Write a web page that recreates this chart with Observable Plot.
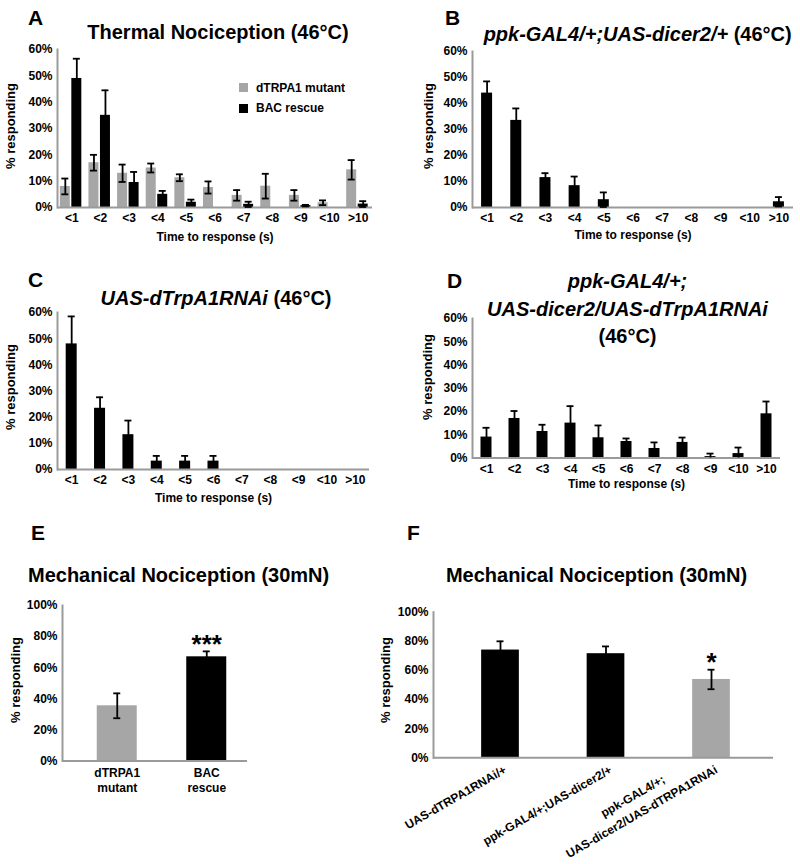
<!DOCTYPE html>
<html><head><meta charset="utf-8">
<script src="https://cdn.jsdelivr.net/npm/d3@7"></script>
<script src="https://cdn.jsdelivr.net/npm/@observablehq/plot@0.6"></script>
<style>
body{margin:0;background:#fff;}
#fig{position:relative;width:800px;height:864px;overflow:hidden;font-family:"Liberation Sans",Arial,Helvetica,sans-serif;font-weight:bold;color:#000;background:#fff;}
.t{position:absolute;line-height:1;white-space:nowrap;}
.sq{position:absolute;}
#fig svg{position:absolute;}
</style></head><body><div id="fig"></div>
<script>
// ---------------- DATA ----------------
const categories = ["<1","<2","<3","<4","<5","<6","<7","<8","<9","<10",">10"];
const seriesA = ["dTRPA1 mutant", "BAC rescue"];
const mutantA    = [8, 17, 13, 15, 11.3, 7.6, 4.6, 8.1, 4.6, 1.8, 14.3];
const mutantAErr = [3, 3, 3.3, 1.7, 1.3, 2.3, 2, 4.7, 2, 0.9, 3.7];
const rescueA    = [49, 35, 9.5, 5, 2, 0, 1.2, 0, 0.7, 0, 1.3];
const rescueAErr = [7.5, 9.5, 4, 1.3, 1, 0, 1, 0, 0.3, 0, 1.1];
const controlB    = [44, 33.5, 11.5, 8.4, 3, 0, 0, 0, 0, 0, 2.2];
const controlBErr = [4.5, 4.6, 1.7, 3.5, 2.8, 0, 0, 0, 0, 0, 1.8];
const rnaiC    = [48, 23.4, 13.3, 3.2, 3.2, 3.2, 0, 0, 0, 0, 0];
const rnaiCErr = [10.5, 4.2, 5.4, 2, 2, 2, 0, 0, 0, 0, 0];
const knockdownD    = [9, 17, 11.4, 15, 8.7, 7.1, 4.1, 6.7, 0.6, 1.9, 19];
const knockdownDErr = [4, 3.2, 2.9, 7.3, 5.3, 1.3, 2.6, 2.1, 1.3, 2.6, 5.3];
const thermalTicks = [0, 10, 20, 30, 40, 50, 60];
const mechTicks = [0, 20, 40, 60, 80, 100];
const groupsE = ["dTRPA1\nmutant", "BAC\nrescue"];
const valuesE = [35.5, 67];
const errE = [8, 3.5];
const signifE = ["", "***"];
const groupsF = ["UAS-dTRPA1RNAi/+", "ppk-GAL4/+;UAS-dicer2/+", "ppk-GAL4/+;\nUAS-dicer2/UAS-dTRPA1RNAi"];
const valuesF = [74, 71.5, 53.8];
const errF = [6, 5, 6.7];
const signifF = ["", "", "*"];

// ---------------- STYLE ----------------
const FONT = '"Liberation Sans", Arial, Helvetica, sans-serif';
const GRAY = "#a6a6a6", BLACK = "#000000", AXIS = "#9a9a9a";
const CAP = 7, EW = 1.8;
const fig = document.getElementById("fig");

function rowsOf(domain, values, errs, sig) {
  return domain.map((k, i) => ({k, v: values[i], e: errs[i], s: sig ? sig[i] : ""}));
}
function barMark(rows, fill, offset, w, step) {
  return Plot.barY(rows, {x: "k", y: "v", fill, insetLeft: step / 2 + offset - w / 2, insetRight: step / 2 - offset - w / 2});
}
function errMarks(rows, offset, step) {
  const r = rows.filter(d => d.v > 0 && d.e > 0);
  const cl = step / 2 + offset - CAP / 2, cr = step / 2 - offset - CAP / 2;
  return [
    Plot.ruleX(r, {x: "k", y1: d => Math.max(0, d.v - d.e), y2: d => d.v + d.e, dx: offset, stroke: BLACK, strokeWidth: EW}),
    Plot.tickY(r, {x: "k", y: d => d.v + d.e, insetLeft: cl, insetRight: cr, stroke: BLACK, strokeWidth: EW}),
    Plot.tickY(r.filter(d => d.v - d.e > 0), {x: "k", y: d => d.v - d.e, insetLeft: cl, insetRight: cr, stroke: BLACK, strokeWidth: EW})
  ];
}

function addText(html, x, baseline, size, align) {
  const d = document.createElement("div");
  d.className = "t";
  d.innerHTML = html;
  d.style.fontSize = size + "px";
  d.style.top = (baseline - 0.8465 * size) + "px";
  d.style.left = x + "px";
  if (align === "center") d.style.transform = "translateX(-50%)";
  fig.appendChild(d);
}
// vertical axis title, centred on (cx, cy), reading bottom to top
function addVLabel(text, cx, cy, size) {
  const d = document.createElement("div");
  d.className = "t";
  d.textContent = text;
  d.style.fontSize = size + "px";
  d.style.left = cx + "px";
  d.style.top = cy + "px";
  d.style.transform = "translate(-50%,-50%) rotate(-90deg)";
  fig.appendChild(d);
}

function panel(cfg) {
  const n = cfg.domain.length;
  const step = (cfg.range[1] - cfg.range[0]) / n;
  const marks = [];
  for (const s of cfg.series) marks.push(barMark(s.rows, s.fill, s.offset, s.width, step));
  marks.push(Plot.ruleY([0], {stroke: AXIS, strokeWidth: 2}));
  marks.push(Plot.frame({anchor: "left", stroke: AXIS, strokeWidth: 2}));
  for (const s of cfg.series) marks.push(...errMarks(s.rows, s.offset, step));
  if (cfg.stars) {
    marks.push(Plot.text(cfg.stars.filter(d => d.s), {x: "k", y: d => d.v + d.e, text: "s", fontSize: 26, lineAnchor: "middle", dy: -7}));
  }
  marks.push(Plot.axisY({ticks: cfg.yTicks, tickFormat: d => d + "%", tickSize: 0, tickPadding: 5, label: null}));
  marks.push(Plot.axisX({tickSize: 0, tickPadding: cfg.tickPadding, label: null, lineHeight: cfg.lineHeight || 1, tickRotate: cfg.tickRotate || 0, dx: cfg.tickDx || 0}));
  if (cfg.xLabel) marks.push(Plot.text([cfg.xLabel], {text: d => d, frameAnchor: "bottom", lineAnchor: "top", dy: cfg.xLabelDy}));
  const svg = Plot.plot({
    width: cfg.width, height: cfg.height,
    marginTop: cfg.mt, marginRight: cfg.mr, marginBottom: cfg.mb, marginLeft: cfg.ml,
    style: {fontFamily: FONT, fontSize: "12px", fontWeight: "bold", color: "#000", background: "none", overflow: "visible"},
    x: {type: "band", domain: cfg.domain, range: cfg.range, padding: 0, round: false},
    y: {domain: cfg.yDomain},
    marks
  });
  svg.style.left = cfg.left + "px";
  svg.style.top = cfg.top + "px";
  fig.appendChild(svg);
  return svg;
}

// ---------------- PANEL A ----------------
panel({
  left: 0, top: 40, width: 382, height: 207, mt: 9, mr: 10, mb: 40, ml: 57,
  domain: categories, range: [57, 372], yDomain: [0, 60], yTicks: thermalTicks,
  series: [
    {rows: rowsOf(categories, mutantA, mutantAErr), fill: GRAY, offset: -6.5, width: 10},
    {rows: rowsOf(categories, rescueA, rescueAErr), fill: BLACK, offset: 5, width: 10}
  ],
  tickPadding: 6, xLabel: "Time to response (s)", xLabelDy: 24.5
});
addVLabel("% responding", 9.8, 126, 13);
[GRAY, BLACK].forEach((c, i) => {
  const sq = document.createElement("div");
  sq.className = "sq";
  Object.assign(sq.style, {left: "239px", top: (83 + i * 20.5) + "px", width: "9px", height: "9px", background: c});
  fig.appendChild(sq);
  addText(seriesA[i], 256, 92 + i * 20.5, 12);
});

// ---------------- PANEL B ----------------
panel({
  left: 410, top: 40, width: 388, height: 207, mt: 11, mr: 5, mb: 40, ml: 62,
  domain: categories, range: [62, 383], yDomain: [0, 60], yTicks: thermalTicks,
  series: [{rows: rowsOf(categories, controlB, controlBErr), fill: BLACK, offset: 0, width: 11}],
  tickPadding: 6, xLabel: "Time to response (s)", xLabelDy: 23
});
addVLabel("% responding", 428, 126, 13);

// ---------------- PANEL C ----------------
panel({
  left: 0, top: 300, width: 379, height: 209, mt: 12, mr: 10, mb: 40, ml: 57,
  domain: categories, range: [57, 369], yDomain: [0, 60], yTicks: thermalTicks,
  series: [{rows: rowsOf(categories, rnaiC, rnaiCErr), fill: BLACK, offset: 0, width: 11}],
  tickPadding: 5.5, xLabel: "Time to response (s)", xLabelDy: 24
});
addVLabel("% responding", 9.8, 386.7, 13);

// ---------------- PANEL D ----------------
panel({
  left: 410, top: 300, width: 380, height: 193, mt: 18, mr: 10, mb: 35.5, ml: 62,
  domain: categories, range: [62, 370], yDomain: [0, 60], yTicks: thermalTicks,
  series: [{rows: rowsOf(categories, knockdownD, knockdownDErr), fill: BLACK, offset: 0, width: 11}],
  tickPadding: 6, xLabel: "Time to response (s)", xLabelDy: 21
});
addVLabel("% responding", 426.5, 376.7, 13);

// ---------------- PANEL E ----------------
const rowsE = rowsOf(groupsE, valuesE, errE, signifE);
panel({
  left: 0, top: 590, width: 260, height: 210.5, mt: 15, mr: 13, mb: 40, ml: 62,
  domain: groupsE, range: [72, 251], yDomain: [0, 100], yTicks: mechTicks,
  series: [
    {rows: rowsE.filter((d, i) => i === 0), fill: GRAY, offset: 0, width: 40},
    {rows: rowsE.filter((d, i) => i === 1), fill: BLACK, offset: 0, width: 40}
  ],
  stars: rowsE, tickPadding: 5, lineHeight: 1.25
});
addVLabel("% responding", 14.8, 680, 13);

// ---------------- PANEL F ----------------
const rowsF = rowsOf(groupsF, valuesF, errF, signifF);
const svgF = panel({
  left: 375, top: 590, width: 418, height: 274, mt: 21.7, mr: 20, mb: 106.7, ml: 58,
  domain: groupsF, range: [72.25, 388.75], yDomain: [0, 100], yTicks: mechTicks,
  series: [
    {rows: rowsF.filter((d, i) => i < 2), fill: BLACK, offset: 0, width: 37.7},
    {rows: rowsF.filter((d, i) => i === 2), fill: GRAY, offset: 0, width: 37.7}
  ],
  stars: rowsF, tickPadding: 11, tickDx: 5, tickRotate: -30
});
addVLabel("% responding", 384.8, 680, 13);
// rotated labels: end of the longest (last) line at the tick, extra lines centred above it
const LH = 1.5;
svgF.querySelectorAll('g[aria-label="x-axis tick label"] text').forEach(t => {
  const spans = t.querySelectorAll("tspan");
  const lines = spans.length ? Array.from(spans, s => s.textContent) : [t.textContent];
  while (t.firstChild) t.removeChild(t.firstChild);
  t.removeAttribute("y");
  t.removeAttribute("dy");
  const n = lines.length;
  lines.forEach((line, i) => {
    const ts = document.createElementNS("http://www.w3.org/2000/svg", "tspan");
    ts.setAttribute("x", 0);
    ts.setAttribute("dy", (i === 0 ? 0.32 - (n - 1) * LH : LH) + "em");
    ts.textContent = line;
    t.appendChild(ts);
  });
  t.setAttribute("text-anchor", "middle");
  const w = t.getBBox().width;
  t.setAttribute("transform", (t.getAttribute("transform") || "") + ` translate(${-w / 2},0)`);
});

// ---------------- TITLES ----------------
addText("A", 28, 25, 21);
addText("Thermal Nociception (46°C)", 218, 39, 20, "center");
addText("B", 445, 25, 21);
addText("<i>ppk-GAL4/+;UAS-dicer2/+</i> (46°C)", 637.7, 40.5, 20, "center");
addText("C", 28, 287, 21);
addText("<i>UAS-dTrpA1RNAi</i> (46°C)", 216, 305, 20, "center");
addText("D", 447, 288, 21);
addText("<i>ppk-GAL4/+;</i>", 627.5, 288, 20, "center");
addText("<i>UAS-dicer2/UAS-dTrpA1RNAi</i>", 627.5, 316, 20, "center");
addText("(46°C)", 627.5, 343, 20, "center");
addText("E", 31, 540, 21);
addText("Mechanical Nociception (30mN)", 28, 582, 20);
addText("F", 407, 540, 21);
addText("Mechanical Nociception (30mN)", 596.5, 582, 20, "center");
</script></body></html>
